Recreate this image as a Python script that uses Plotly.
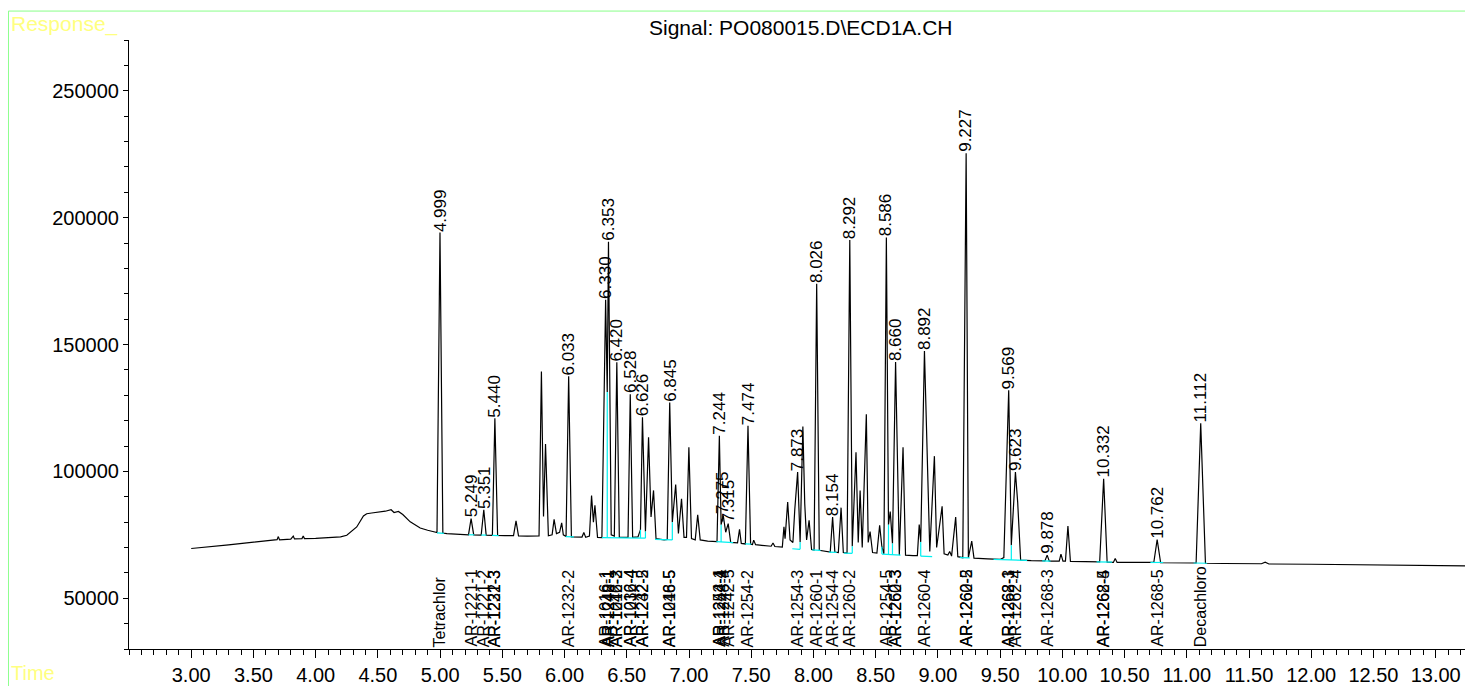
import plotly.graph_objects as go

# ---------------- data ----------------
trace_time = [
    3.00, 3.10, 3.20, 3.30, 3.447, 3.55, 3.65, 3.69, 3.70, 3.71, 3.80, 3.82, 3.83, 3.89, 3.90, 3.91,
    4.00, 4.116, 4.20, 4.25, 4.33, 4.384, 4.41, 4.45, 4.52, 4.56, 4.606, 4.63, 4.665, 4.70, 4.76, 4.84,
    4.90, 4.96, 4.975, 4.999, 5.022, 5.054, 5.16, 5.228, 5.249, 5.27, 5.33, 5.351, 5.37, 5.42, 5.440,
    5.462, 5.52, 5.59, 5.61, 5.63, 5.70, 5.77, 5.795, 5.814, 5.831, 5.847, 5.87, 5.90, 5.916, 5.935,
    5.96, 5.977, 5.99, 6.012, 6.033, 6.055, 6.10, 6.14, 6.155, 6.17, 6.20, 6.217, 6.232, 6.244, 6.265,
    6.30, 6.330, 6.343, 6.353, 6.375, 6.40, 6.420, 6.44, 6.51, 6.528, 6.547, 6.59, 6.610, 6.626, 6.650,
    6.675, 6.695, 6.715, 6.735, 6.80, 6.825, 6.845, 6.866, 6.893, 6.915, 6.940, 6.960, 6.980, 6.999,
    7.02, 7.05, 7.07, 7.09, 7.15, 7.225, 7.244, 7.258, 7.275, 7.295, 7.315, 7.335, 7.39, 7.406, 7.42,
    7.453, 7.474, 7.495, 7.51, 7.52, 7.535, 7.60, 7.66, 7.675, 7.69, 7.75, 7.763, 7.772, 7.793, 7.812,
    7.835, 7.850, 7.873, 7.893, 7.915, 7.930, 7.945, 7.965, 7.985, 8.005, 8.026, 8.047, 8.10, 8.135,
    8.154, 8.172, 8.20, 8.222, 8.24, 8.27, 8.292, 8.312, 8.342, 8.36, 8.375, 8.392, 8.425, 8.44, 8.455,
    8.475, 8.51, 8.532, 8.550, 8.566, 8.586, 8.603, 8.617, 8.635, 8.660, 8.690, 8.720, 8.740, 8.80,
    8.835, 8.850, 8.862, 8.892, 8.935, 8.972, 8.99, 9.034, 9.05, 9.08, 9.095, 9.11, 9.143, 9.16, 9.20,
    9.227, 9.245, 9.272, 9.29, 9.40, 9.50, 9.53, 9.548, 9.569, 9.590, 9.623, 9.641, 9.665, 9.75, 9.86,
    9.878, 9.895, 9.975, 9.989, 10.005, 10.025, 10.045, 10.065, 10.30, 10.332, 10.36, 10.41, 10.425,
    10.44, 10.735, 10.762, 10.79, 11.075, 11.112, 11.15, 11.30, 11.60, 11.63, 11.66, 12.00, 12.50,
    13.00, 13.30,
]
trace_resp = [
    69600, 70000, 70500, 71000, 71800, 72300, 72800, 73100, 74300, 73000, 73300, 74500, 73400, 73500, 74500, 73500,
    73600, 73800, 74200, 74800, 78100, 82400, 83300, 83600, 84000, 84300, 84900, 83800, 84200, 83000, 80100, 77700,
    76800, 76200, 75900, 194100, 75700, 75500, 75100, 75000, 81400, 75000, 74900, 84900, 74900, 74800, 120900,
    74800, 74700, 74700, 80500, 74600, 74500, 74500, 74600, 139400, 82200, 110800, 74600, 75000, 81100, 75500,
    76000, 79700, 75000, 74300, 137450, 74200, 74000, 74100, 75900, 74000, 74500, 90500, 80000, 86600, 74000,
    73900, 167600, 131300, 190500, 75000, 74500, 143000, 74000, 74000, 130400, 74000, 74200, 77000, 121300, 76300,
    113400, 82000, 92500, 73500, 73000, 73200, 127100, 80000, 94800, 75500, 89200, 74000, 74000, 109500,
    73500, 73000, 82900, 73000, 72500, 72300, 114000, 79000, 82700, 76000, 79400, 72000, 71800, 77200, 71600,
    71400, 118000, 71300, 71200, 72900, 71100, 70800, 70500, 71800, 70400, 70200, 78200, 73500, 87900, 73000,
    72000, 85000, 99700, 72200, 117700, 87300, 73000, 80700, 69200, 69000, 173900, 68900, 68500, 68200,
    82000, 68200, 68000, 85700, 68000, 67800, 191200, 70500, 107500, 72000, 92500, 70000, 122500, 72000, 76300,
    68000, 67800, 78700, 70300, 67500, 192200, 79000, 84200, 71600, 143100, 67000, 109500, 67000, 66800,
    66800, 79000, 72200, 147400, 68400, 106000, 70000, 86200, 67500, 67000, 68400, 66600, 82000, 66400, 66000,
    225400, 66000, 72500, 65800, 65500, 65300, 66000, 99000, 132000, 70900, 99700, 88000, 65000, 64800, 64700,
    67000, 64600, 64600, 67400, 64600, 64600, 78500, 64500, 64300, 97100, 64200, 64100, 65700,
    64100, 64100, 73100, 64000, 63900, 119000, 63800, 63700, 63600, 64200, 63500, 63400, 63100,
    62900, 62700,
]

# labelled peaks (retention time label, apex response)
peak_rt = [4.999, 5.249, 5.351, 5.440, 6.033, 6.330, 6.353, 6.420, 6.528, 6.626, 6.845, 7.244, 7.275,
           7.315, 7.474, 7.873, 8.026, 8.154, 8.292, 8.586, 8.660, 8.892, 9.227, 9.569, 9.623, 9.878,
           10.332, 10.762, 11.112]
peak_apex = [194100, 81400, 84900, 120900, 137450, 167600, 190500, 143000, 130400, 121300, 127100,
             114000, 82700, 79400, 118000, 99700, 173900, 82000, 191200, 192200, 143100, 147400, 225400,
             132000, 99700, 67000, 97100, 73100, 119000]

# compound names along the time axis
comp_rt = [4.999, 5.249, 5.351, 5.440, 5.440, 6.033, 6.330, 6.353, 6.353, 6.420, 6.420, 6.528, 6.528,
           6.626, 6.626, 6.845, 6.845, 7.244, 7.244, 7.275, 7.315, 7.474, 7.873, 8.026, 8.154, 8.292,
           8.586, 8.660, 8.660, 8.892, 9.227, 9.227, 9.569, 9.569, 9.623, 9.878, 10.332, 10.332, 10.762,
           11.112]
comp_name = ["Tetrachlor", "AR-1221-1", "AR-1221-2", "AR-1221-3", "AR-1232-3", "AR-1232-2",
             "AR-1016-1", "AR-1242-1", "AR-1248-1", "AR-1016-2", "AR-1242-3", "AR-1016-4", "AR-1232-4",
             "AR-1232-5", "AR-1242-2", "AR-1016-5", "AR-1248-5", "AR-1254-1", "AR-1242-4", "AR-1248-4",
             "AR-1242-5", "AR-1254-2", "AR-1254-3", "AR-1260-1", "AR-1254-4", "AR-1260-2", "AR-1254-5",
             "AR-1260-3", "AR-1262-3", "AR-1260-4", "AR-1260-5", "AR-1262-2", "AR-1268-1", "AR-1262-3",
             "AR-1262-4", "AR-1268-3", "AR-1268-4", "AR-1262-5", "AR-1268-5", "Decachloro"]

# integration baselines (cyan)
base_t0 = [4.975, 5.228, 5.330, 5.418, 6.010, 6.300, 6.727, 7.220, 7.452, 7.830, 7.990, 8.125, 8.245,
           8.550, 8.862, 9.176, 9.447, 9.838, 10.275, 10.708, 11.055]
base_v0 = [75800, 75000, 74900, 74800, 74300, 73900, 73200, 72300, 71400, 69500, 69100, 68200, 67800,
           67400, 66600, 66000, 65300, 64700, 64300, 64100, 63900]
base_t1 = [5.030, 5.275, 5.372, 5.470, 6.075, 6.650, 6.866, 7.355, 7.500, 7.893, 8.057, 8.186, 8.312,
           8.700, 8.954, 9.256, 9.717, 9.905, 10.400, 10.810, 11.163]
base_v1 = [75600, 75000, 74900, 74700, 74200, 73700, 73000, 71900, 71300, 69300, 68900, 68100, 67700,
           67000, 66400, 65900, 64900, 64600, 64200, 64100, 63800]
drop_t = [6.343, 6.610, 6.650, 6.866, 7.258, 7.893, 8.312, 8.550, 8.603, 8.635, 8.862, 9.590]
drop_lo = [73900, 73800, 73700, 73000, 72200, 69300, 67700, 67400, 67200, 67100, 66600, 65100]
drop_hi = [131300, 77000, 76300, 80000, 79000, 72200, 70500, 70300, 79000, 71600, 72200, 70900]

x_ticks = [3.0, 3.5, 4.0, 4.5, 5.0, 5.5, 6.0, 6.5, 7.0, 7.5, 8.0, 8.5, 9.0, 9.5, 10.0, 10.5, 11.0,
           11.5, 12.0, 12.5, 13.0]
y_ticks = [50000, 100000, 150000, 200000, 250000]

# ---------------- figure ----------------
FONT = "Liberation Sans, Arial, sans-serif"
CYAN = "#00f0f0"

fig = go.Figure()
fig.add_trace(go.Scatter(x=trace_time, y=trace_resp, mode="lines",
                         line=dict(color="black", width=1.2), hoverinfo="skip", showlegend=False))

cx, cy = [], []
for a, va, b, vb in zip(base_t0, base_v0, base_t1, base_v1):
    cx += [a, b, None]
    cy += [va, vb, None]
for t, lo, hi in zip(drop_t, drop_lo, drop_hi):
    cx += [t, t, None]
    cy += [lo, hi, None]
fig.add_trace(go.Scatter(x=cx, y=cy, mode="lines", line=dict(color=CYAN, width=1.2),
                         hoverinfo="skip", showlegend=False))

annotations = []
for rt, ap in zip(peak_rt, peak_apex):
    annotations.append(dict(x=rt, y=ap, xref="x", yref="y", text=f"{rt:.3f}", textangle=-90,
                            showarrow=False, xanchor="center", yanchor="bottom", yshift=0,
                            borderpad=0, font=dict(family=FONT, size=17, color="black")))
for rt, nm in zip(comp_rt, comp_name):
    annotations.append(dict(x=rt, y=30000, xref="x", yref="y", text=nm, textangle=-90,
                            showarrow=False, xanchor="center", yanchor="bottom", yshift=1,
                            borderpad=0, font=dict(family=FONT, size=16, color="black")))

annotations.append(dict(x=0.5, y=1 - 19 / 611 + 32 / 611, xref="paper", yref="paper",
                        text="Signal: PO080015.D\\ECD1A.CH", showarrow=False,
                        xanchor="center", yanchor="middle",
                        font=dict(family=FONT, size=21, color="black")))
annotations.append(dict(x=-0.0895, y=1.0265, xref="paper", yref="paper", text="Response_",
                        showarrow=False, xanchor="left", yanchor="middle",
                        font=dict(family=FONT, size=21, color="#ffff80")))
annotations.append(dict(x=-0.0895, y=-0.040, xref="paper", yref="paper", text="Time",
                        showarrow=False, xanchor="left", yanchor="middle",
                        font=dict(family=FONT, size=20, color="#ffff80")))

shapes = [
    dict(type="line", xref="paper", yref="paper", x0=-0.0897, x1=-0.0897, y0=-0.07, y1=1.0475,
         line=dict(color="#88ff88", width=1)),
    dict(type="line", xref="paper", yref="paper", x0=-0.0897, x1=1.0, y0=1.0475, y1=1.0475,
         line=dict(color="#88ff88", width=1)),
]

# the page body adds an 8 px margin, so the figure is 8 px smaller and margins shifted
fig.update_layout(
    width=1465, height=678,
    margin=dict(l=121, r=0, t=32, b=35),
    paper_bgcolor="white", plot_bgcolor="white",
    font=dict(family=FONT, color="black"),
    annotations=annotations,
    shapes=shapes,
    showlegend=False,
)
fig.update_xaxes(range=[2.5, 13.3], showgrid=False, zeroline=False, showline=True, linecolor="black",
                 linewidth=1, ticks="outside", ticklen=8, tickcolor="black", tickmode="array",
                 tickvals=x_ticks, ticktext=[f"{v:.2f}" for v in x_ticks],
                 tickfont=dict(family=FONT, size=20, color="black"),
                 minor=dict(ticks="outside", ticklen=5, tickcolor="black", tickmode="linear",
                            tick0=2.5, dtick=0.1, showgrid=False))
fig.update_yaxes(range=[30000, 270000], showgrid=False, zeroline=False, showline=True, linecolor="black",
                 linewidth=1, ticks="outside", ticklen=5, tickcolor="black", tickmode="array",
                 tickvals=y_ticks, ticktext=[str(v) for v in y_ticks],
                 tickfont=dict(family=FONT, size=20, color="black"),
                 minor=dict(ticks="outside", ticklen=4, tickcolor="black", tickmode="linear",
                            tick0=30000, dtick=10000, showgrid=False))

fig.write_html("out.html", config=dict(displayModeBar=False))
